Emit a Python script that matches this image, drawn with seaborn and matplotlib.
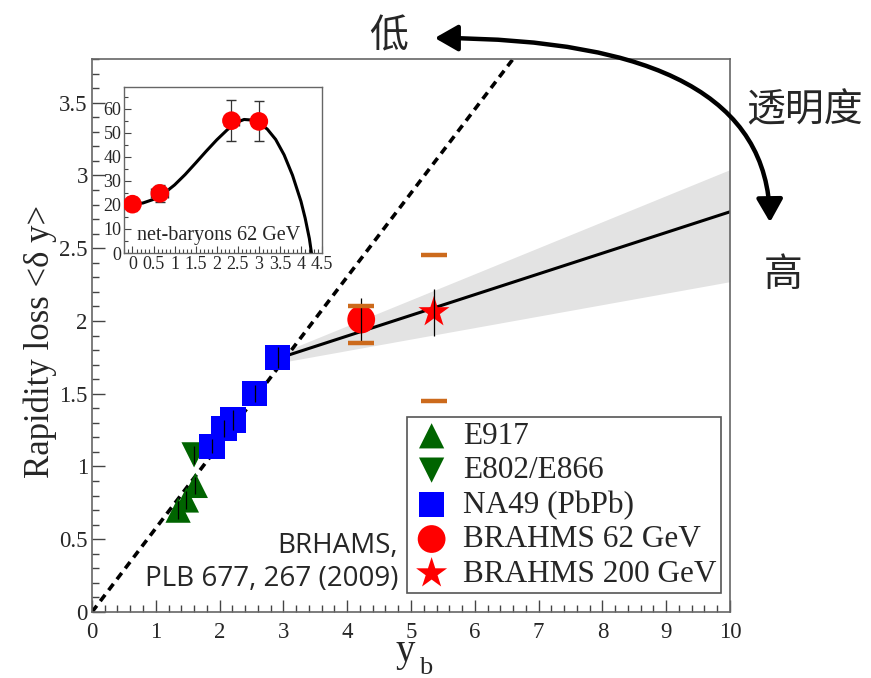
import numpy as np
import pandas as pd
import matplotlib.pyplot as plt
from matplotlib.patches import FancyArrowPatch
from matplotlib.ticker import MultipleLocator
import seaborn as sns

# main panel data
e917_x = [1.35, 1.48, 1.62]
e917_y = [0.70, 0.77, 0.87]
e917_err = [0.06, 0.06, 0.06]
e802_x = [1.60]
e802_y = [1.08]
e802_err = [0.06]
na49_x = [1.88, 2.07, 2.21, 2.55, 2.91]
na49_y = [1.14, 1.26, 1.32, 1.50, 1.75]
na49_err = [0.05, 0.06, 0.07, 0.06, 0.07]
b62_x = [4.22]
b62_y = [2.01]
b62_err = [0.15]
b62_sys_lo = [1.85]
b62_sys_hi = [2.10]
b200_x = [5.36]
b200_y = [2.06]
b200_err = [0.16]
b200_sys_lo = [1.45]
b200_sys_hi = [2.45]

diag_x = [0.0, 6.6]
diag_y = [0.0, 3.8]
fit_x = [2.9, 10.0]
fit_y = [1.74, 2.75]
band_x = [2.9, 10.0]
band_lo = [1.71, 2.27]
band_hi = [1.77, 3.04]

# inset: net-baryons 62 GeV
ins_x = [0.0, 0.65, 2.35, 3.0]
ins_y = [20.3, 24.8, 55.0, 54.7]
ins_yerr = [2.8, 3.5, 8.4, 8.3]
ins_xerr = [0.0, 0.2, 0.18, 0.0]
curve_x = [0, 0.25, 0.5, 0.75, 1.0, 1.25, 1.5, 1.75, 2.0, 2.25, 2.5, 2.65, 2.8,
           3.0, 3.2, 3.4, 3.6, 3.8, 4.0, 4.1, 4.2, 4.25]
curve_y = [20.3, 20.8, 22.3, 24.8, 28.3, 32.6, 37.4, 42.3, 47.0, 51.2, 54.5, 55.5,
           55.3, 54.0, 51.5, 47.2, 40.8, 32.3, 21.5, 14.5, 6.0, 0.0]

sns.set_style('ticks')
plt.rcParams['font.family'] = ['Liberation Serif', 'DejaVu Serif']
plt.rcParams['xtick.direction'] = 'in'
plt.rcParams['ytick.direction'] = 'in'

green = '#006400'
orange = '#cc6a1c'

fig = plt.figure(figsize=(8.71, 6.78), dpi=100)
ax = fig.add_axes([0.1056, 0.0973, 0.7325, 0.8157])

ax.fill_between(band_x, band_lo, band_hi, color='#e3e3e3', lw=0, zorder=1)
sns.lineplot(x=diag_x, y=diag_y, ax=ax, color='black', lw=2.6, ls=(0, (2.2, 1.6)), zorder=2)
sns.lineplot(x=fit_x, y=fit_y, ax=ax, color='black', lw=2.2, zorder=2)

sns.scatterplot(x=e917_x, y=e917_y, ax=ax, marker='^', s=330, color=green,
                edgecolor='none', label='E917', zorder=3)
sns.scatterplot(x=e802_x, y=e802_y, ax=ax, marker='v', s=330, color=green,
                edgecolor='none', label='E802/E866', zorder=3)
sns.scatterplot(x=na49_x, y=na49_y, ax=ax, marker='s', s=330, color='#0000ff',
                edgecolor='none', label='NA49 (PbPb)', zorder=3)
sns.scatterplot(x=b62_x, y=b62_y, ax=ax, marker='o', s=400, color='#ff0000',
                edgecolor='none', label='BRAHMS 62 GeV', zorder=3)
sns.scatterplot(x=b200_x, y=b200_y, ax=ax, marker='*', s=550, color='#ff0000',
                edgecolor='none', label='BRAHMS 200 GeV', zorder=3)

for xs, ys, es in [(e917_x, e917_y, e917_err), (e802_x, e802_y, e802_err),
                   (na49_x, na49_y, na49_err), (b62_x, b62_y, b62_err),
                   (b200_x, b200_y, b200_err)]:
    ax.errorbar(xs, ys, yerr=es, fmt='none', ecolor='black', elinewidth=0.9, zorder=4)

for xs, lo, hi in [(b62_x, b62_sys_lo, b62_sys_hi), (b200_x, b200_sys_lo, b200_sys_hi)]:
    xs = np.array(xs)
    ax.hlines(lo + hi, list(xs - 0.2) * 2, list(xs + 0.2) * 2, color=orange, lw=3.2, zorder=5)

ax.set_xlim(0, 10)
ax.set_ylim(0, 3.8)
ax.xaxis.set_major_locator(MultipleLocator(1))
ax.xaxis.set_minor_locator(MultipleLocator(0.2))
ax.yaxis.set_minor_locator(MultipleLocator(0.1))
ax.set_yticks([0, 0.5, 1, 1.5, 2, 2.5, 3, 3.5])
ax.set_yticklabels(['0', '0.5', '1', '1.5', '2', '2.5', '3', '3.5'])
ax.tick_params(which='major', length=9, width=1, color='#444', labelsize=16.5, pad=3)
ax.tick_params(axis='x', which='major', pad=7)
ax.tick_params(which='minor', length=5, width=1, color='#444')
for s in ax.spines.values():
    s.set_color('#666')
    s.set_linewidth(1.2)
ax.set_ylabel('Rapidity loss <δ y>', fontsize=25)
ax.yaxis.set_label_coords(-0.055, 0.49)
ax.set_xlabel('')
fig.text(405 / 871, 1 - 652 / 678, 'y', fontsize=28, ha='center', va='center')
fig.text(426 / 871, 1 - 668 / 678, 'b', fontsize=19, ha='center', va='center')

leg = ax.legend(loc='lower right', bbox_to_anchor=(0.986, 0.034), fontsize=22.5,
                frameon=True, fancybox=False, edgecolor='#555', framealpha=1,
                handletextpad=0.35, labelspacing=0.17, borderpad=0.15, handlelength=1.3,
                borderaxespad=0)
leg.get_frame().set_linewidth(1.2)

ax.text(0.48, 0.09, 'BRHAMS,\nPLB 677, 267 (2009)', transform=ax.transAxes, ha='right',
        va='center', fontsize=20, family=['Open Sans', 'DejaVu Sans'], linespacing=1.25)

# inset
ins = fig.add_axes([0.1424, 0.6268, 0.2273, 0.2449])
sns.lineplot(x=curve_x, y=curve_y, ax=ins, color='black', lw=2.2, zorder=2)
ins.errorbar(ins_x, ins_y, yerr=ins_yerr, xerr=ins_xerr, fmt='none', ecolor='#333',
             elinewidth=0.9, capsize=3.5, zorder=3)
sns.scatterplot(x=ins_x, y=ins_y, ax=ins, marker='o', s=180, color='#ff0000',
                edgecolor='none', zorder=4)
ins.set_xlim(-0.2, 4.5)
ins.set_ylim(0, 69)
ins.xaxis.set_minor_locator(MultipleLocator(0.1))
ins.yaxis.set_major_locator(MultipleLocator(10))
ins.yaxis.set_minor_locator(MultipleLocator(5))
ins.set_xticks([0, 0.5, 1, 1.5, 2, 2.5, 3, 3.5, 4, 4.5])
ins.set_xticklabels(['0', '0.5', '1', '1.5', '2', '2.5', '3', '3.5', '4', '4.5'])
ins.tick_params(which='major', length=5, width=0.8, color='#444', labelsize=13, pad=2)
ins.tick_params(which='minor', length=3, width=0.8, color='#444')
for s in ins.spines.values():
    s.set_color('#666')
    s.set_linewidth(1)
ins.text(0.065, 0.08, 'net-baryons 62 GeV', transform=ins.transAxes, fontsize=14.5)

# transparency arrow and labels
cjk = ['Noto Sans CJK SC', 'DejaVu Sans']
arrow = FancyArrowPatch((432 / 871, 1 - 38 / 678), (770 / 871, 1 - 225 / 678),
                        transform=fig.transFigure, connectionstyle='angle3,angleA=0,angleB=90',
                        arrowstyle='<|-|>,head_length=0.7,head_width=0.4', lw=3.2,
                        color='black', mutation_scale=20)
fig.add_artist(arrow)
fig.text(389 / 871, 1 - 36 / 678, '低', family=cjk, fontsize=28, ha='center', va='center')
fig.text(805 / 871, 1 - 110 / 678, '透明度', family=cjk, fontsize=28, ha='center', va='center')
fig.text(783 / 871, 1 - 275 / 678, '高', family=cjk, fontsize=28, ha='center', va='center')

fig.savefig('out.png', dpi=100)
